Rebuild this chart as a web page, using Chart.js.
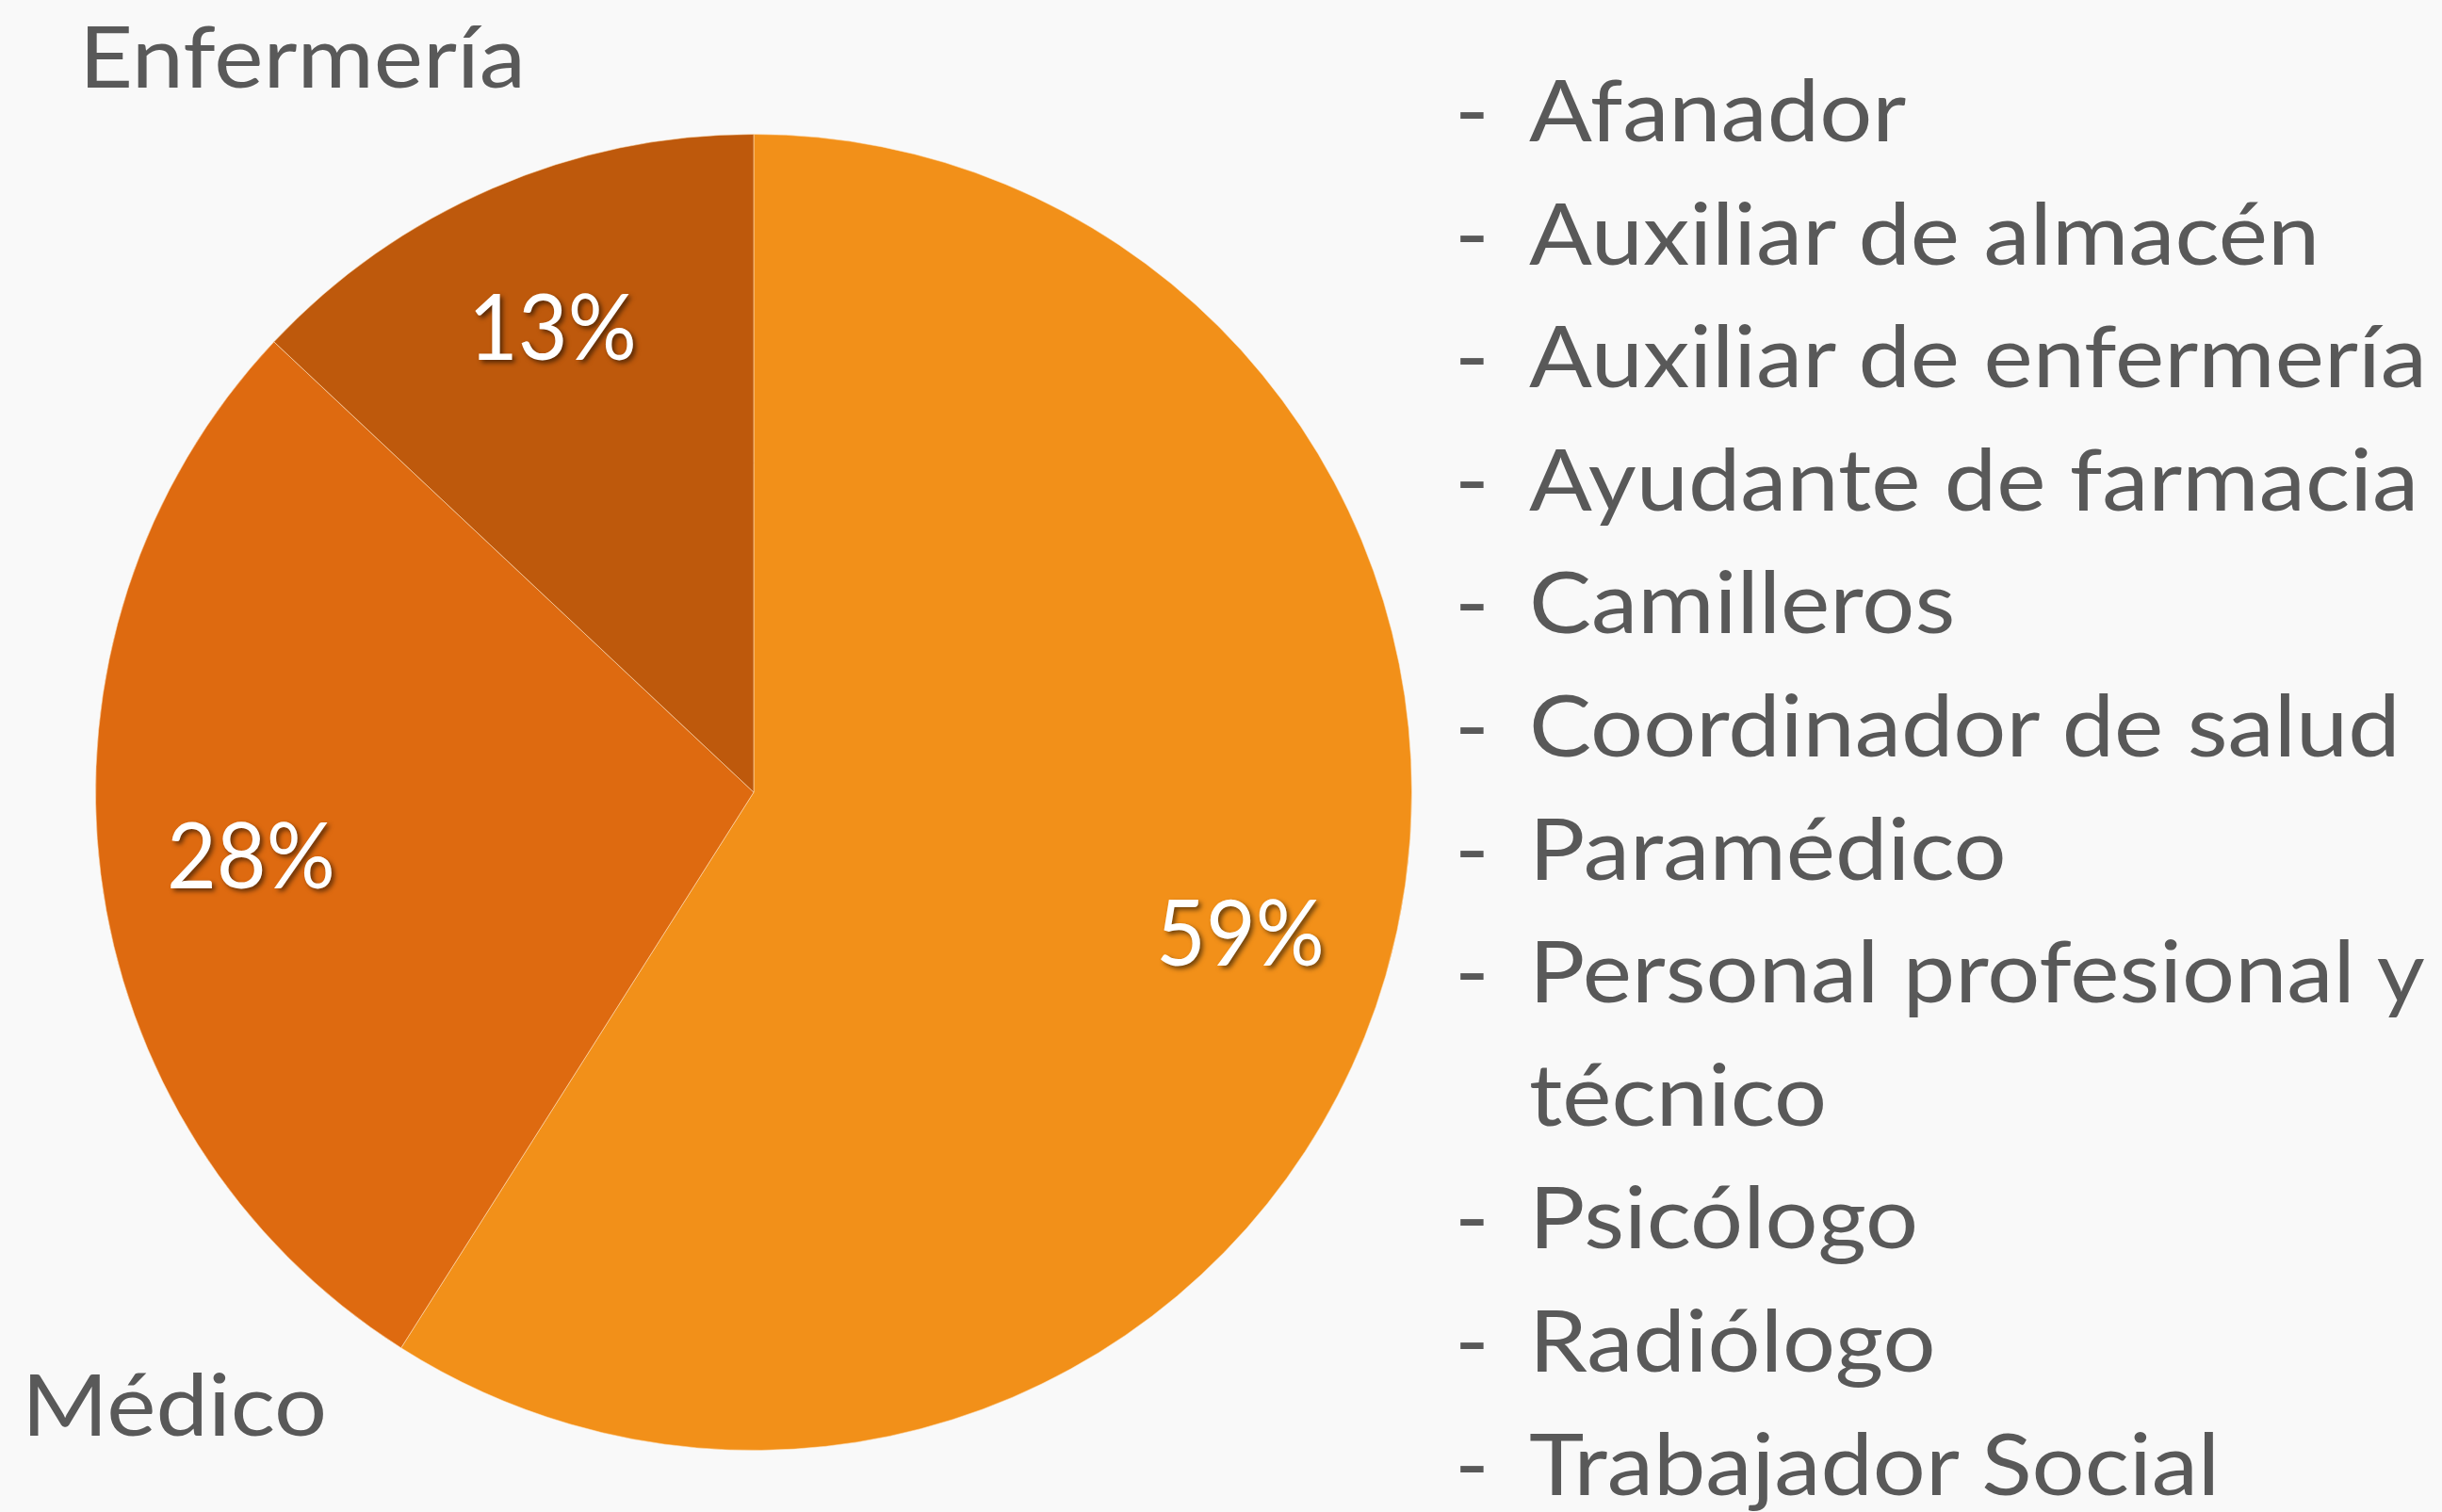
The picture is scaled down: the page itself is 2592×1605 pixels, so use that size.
<!DOCTYPE html>
<html><head><meta charset="utf-8">
<script src="https://cdn.jsdelivr.net/npm/chart.js@4"></script>
<style>
html,body{margin:0;padding:0;background:#F9F9F9;width:2592px;height:1605px;overflow:hidden;}
#wrap{position:relative;width:2592px;height:1605px;}
canvas{position:absolute;left:0;top:0;}
.t{position:absolute;font-family:Lato;color:#595959;transform-origin:0 0;top:0;left:0;}
.item{position:relative;white-space:normal;}
.dash{position:absolute;left:0;top:0;}
</style></head><body>
<div id="wrap"><canvas id="c" width="2592" height="1605"></canvas></div>
<script>
const categories = ['Otros', 'Médico', 'Enfermería'];
const values = [59, 28, 13];
const percentLabels = ['59%', '28%', '13%'];
const colors = ['#F29019', '#DE6A10', '#BE590C'];
const outsideLabels = ['Enfermería', 'Médico'];
const legendItems = ['Afanador', 'Auxiliar de almacén', 'Auxiliar de enfermería', 'Ayudante de farmacia',
  'Camilleros', 'Coordinador de salud', 'Paramédico', 'Personal profesional y técnico',
  'Psicólogo', 'Radiólogo', 'Trabajador Social'];

const FS = 92, PFS = 96;
function build() {
  const mc = document.createElement('canvas').getContext('2d');
  mc.font = FS + 'px Lato';
  const s = 955 / mc.measureText('Auxiliar de enfermería').width;
  mc.font = PFS + 'px Lato';
  const sp = 179 / mc.measureText('13%').width;
  const wrap = document.getElementById('wrap');

  function place(el, x, baseline) {
    el.style.left = x + 'px';
    const m = document.createElement('span');
    m.style.display = 'inline-block'; m.style.width = '0'; m.style.height = '0';
    el.appendChild(m);
    el.style.top = (baseline - m.offsetTop) + 'px';
  }
  // outside labels
  const pos = [[84, 93], [23, 1524]];
  outsideLabels.forEach((t, i) => {
    const d = document.createElement('div');
    d.className = 't';
    d.style.fontSize = FS + 'px'; d.style.lineHeight = FS * 1.2 + 'px'; d.style.whiteSpace = 'nowrap';
    d.style.transform = 'scaleX(' + s + ')';
    d.textContent = t;
    wrap.appendChild(d);
    place(d, pos[i][0], pos[i][1]);
  });
  // legend list
  const L = document.createElement('div');
  L.className = 't';
  L.style.fontSize = FS + 'px'; L.style.lineHeight = '130.6px';
  L.style.width = (79 + 1000) / s + 'px';
  L.style.transform = 'scaleX(' + s + ')';
  legendItems.forEach(t => {
    const it = document.createElement('div');
    it.className = 'item';
    it.style.paddingLeft = 79 / s + 'px';
    const ds = document.createElement('span'); ds.className = 'dash'; ds.textContent = '-';
    it.appendChild(ds);
    it.appendChild(document.createTextNode(t));
    L.appendChild(it);
  });
  wrap.appendChild(L);
  L.style.left = '1544px';
  const m = document.createElement('span');
  m.style.display = 'inline-block'; m.style.width = '0'; m.style.height = '0';
  L.firstElementChild.appendChild(m);
  L.style.top = (150 - (m.offsetTop)) + 'px';

  const pctPlugin = {
    id: 'pct',
    afterDatasetsDraw(chart) {
      const ctx = chart.ctx;
      const meta = chart.getDatasetMeta(0);
      meta.data.forEach((arc, i) => {
        const p = arc.getProps(['x', 'y', 'startAngle', 'endAngle', 'outerRadius'], true);
        const mid = (p.startAngle + p.endAngle) / 2;
        const r = p.outerRadius * 0.77;
        const px = p.x + Math.cos(mid) * r, py = p.y + Math.sin(mid) * r;
        ctx.save();
        ctx.font = PFS + 'px Lato';
        ctx.fillStyle = '#FFFFFF';
        ctx.shadowColor = 'rgba(0,0,0,0.55)';
        ctx.shadowOffsetX = 3; ctx.shadowOffsetY = 3; ctx.shadowBlur = 5;
        ctx.textAlign = 'center'; ctx.textBaseline = 'alphabetic';
        ctx.translate(px, py + PFS * 0.7165 / 2);
        ctx.scale(sp, 1);
        ctx.fillText(percentLabels[i], 0, 0);
        ctx.restore();
      });
    }
  };

  new Chart(document.getElementById('c'), {
    type: 'pie',
    data: {
      labels: categories,
      datasets: [{
        data: values,
        backgroundColor: colors,
        borderColor: 'rgba(255,225,190,0.55)',
        borderWidth: 1
      }]
    },
    options: {
      responsive: false,
      animation: false,
      layout: { padding: { left: 101, right: 1093, top: 142, bottom: 65 } },
      plugins: { legend: { display: false }, tooltip: { enabled: false } }
    },
    plugins: [pctPlugin]
  });
}
(document.fonts && document.fonts.load ? document.fonts.load(FS + 'px Lato') : Promise.resolve()).then(build, build);
</script>
</body></html>
